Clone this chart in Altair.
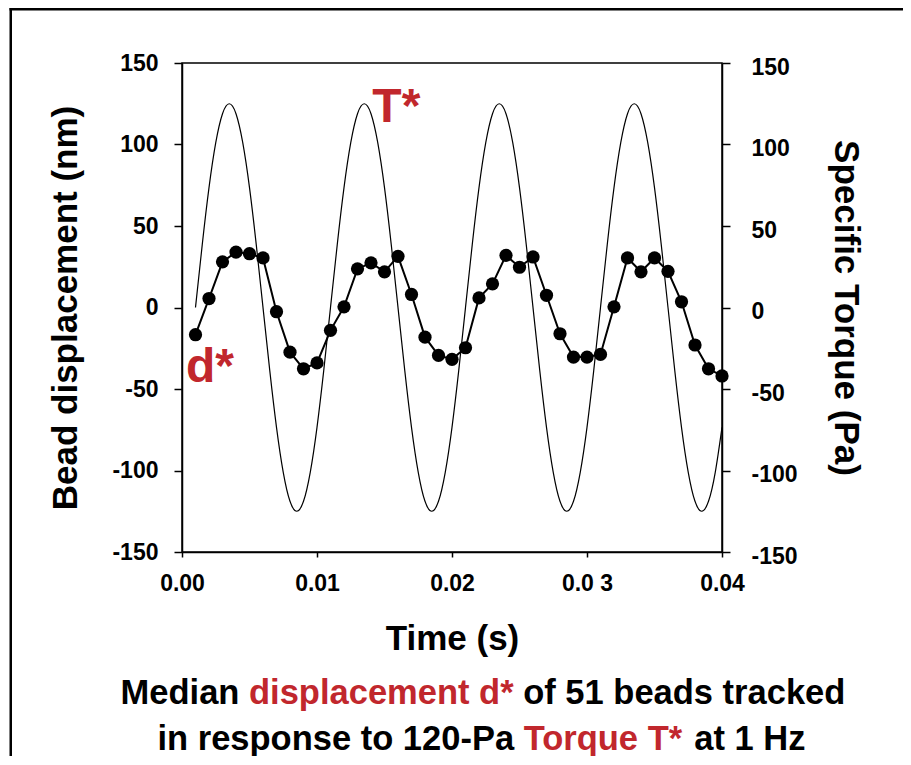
import altair as alt
import pandas as pd

# ---- data ----
time_s = [0.001, 0.002, 0.003, 0.004, 0.005, 0.006, 0.007, 0.008, 0.009, 0.010,
          0.011, 0.012, 0.013, 0.014, 0.015, 0.016, 0.017, 0.018, 0.019, 0.020,
          0.021, 0.022, 0.023, 0.024, 0.025, 0.026, 0.027, 0.028, 0.029, 0.030,
          0.031, 0.032, 0.033, 0.034, 0.035, 0.036, 0.037, 0.038, 0.039, 0.040]
displacement_nm = [-16.7, 5.5, 28, 34, 33, 30.4, -2.6, -27.4, -37.6, -34,
                   -14, 0.4, 23.7, 27.4, 21.9, 31.4, 8, -18.2, -29.4, -31.8,
                   -24.7, 5.9, 14.5, 32, 24.7, 31, 7.5, -16.1, -30.4, -30.4,
                   -28.8, 0.4, 30.4, 21.9, 30.4, 22.2, 3.5, -23, -37.6, -42]

torque_time_s = [0.0010, 0.0015, 0.0020, 0.0025, 0.0030, 0.0035, 0.0040, 0.0045, 0.0050, 0.0055,
                 0.0060, 0.0065, 0.0070, 0.0075, 0.0080, 0.0085, 0.0090, 0.0095, 0.0100, 0.0105,
                 0.0110, 0.0115, 0.0120, 0.0125, 0.0130, 0.0135, 0.0140, 0.0145, 0.0150, 0.0155,
                 0.0160, 0.0165, 0.0170, 0.0175, 0.0180, 0.0185, 0.0190, 0.0195, 0.0200, 0.0205,
                 0.0210, 0.0215, 0.0220, 0.0225, 0.0230, 0.0235, 0.0240, 0.0245, 0.0250, 0.0255,
                 0.0260, 0.0265, 0.0270, 0.0275, 0.0280, 0.0285, 0.0290, 0.0295, 0.0300, 0.0305,
                 0.0310, 0.0315, 0.0320, 0.0325, 0.0330, 0.0335, 0.0340, 0.0345, 0.0350, 0.0355,
                 0.0360, 0.0365, 0.0370, 0.0375, 0.0380, 0.0385, 0.0390, 0.0395, 0.0400]
torque_pa = [0, 38.6, 73.5, 101.1, 118.9, 125, 118.9, 101.1, 73.5, 38.6,
             0, -38.6, -73.5, -101.1, -118.9, -125, -118.9, -101.1, -73.5, -38.6,
             0, 38.6, 73.5, 101.1, 118.9, 125, 118.9, 101.1, 73.5, 38.6,
             0, -38.6, -73.5, -101.1, -118.9, -125, -118.9, -101.1, -73.5, -38.6,
             0, 38.6, 73.5, 101.1, 118.9, 125, 118.9, 101.1, 73.5, 38.6,
             0, -38.6, -73.5, -101.1, -118.9, -125, -118.9, -101.1, -73.5, -38.6,
             0, 38.6, 73.5, 101.1, 118.9, 125, 118.9, 101.1, 73.5, 38.6,
             0, -38.6, -73.5, -101.1, -118.9, -125, -118.9, -101.1, -73.5]

x_ticks = [0, 0.01, 0.02, 0.03, 0.04]
y_ticks = [-150, -100, -50, 0, 50, 100, 150]

label_t = [0.0141, 0.0003]
label_v = [114, -46]
label_txt = ["T*", "d*"]

caption1 = ["Median", "displacement d*", "of 51 beads tracked"]
caption2 = ["in response to 120-Pa", "Torque T*", "at 1 Hz"]

RED = "#c1272d"
FONT = "Liberation Sans"

disp_df = pd.DataFrame({"t": time_s, "d": displacement_nm})
torque_df = pd.DataFrame({"t": torque_time_s, "T": torque_pa})
label_df = pd.DataFrame({"t": label_t, "v": label_v, "label": label_txt})
one = pd.DataFrame({"k": [0]})

x_scale = alt.Scale(domain=[0, 0.04], nice=False, zero=False)
y_scale = alt.Scale(domain=[-150, 150], nice=False, zero=False)

y_label_expr = "'' + datum.value"

x_axis = alt.Axis(values=x_ticks, title="Time (s)", grid=False, labelFlush=False,
                  labelExpr="abs(datum.value-0.03)<1e-9 ? '0.0 3' : format(datum.value, '.2f')",
                  tickSize=5, labelPadding=15, titlePadding=26)
left_axis = alt.Axis(values=y_ticks, title="Bead displacement (nm)", orient="left", grid=False,
                     labelFlush=False, labelExpr=y_label_expr,
                     tickSize=8, labelPadding=16, titlePadding=28)
right_axis = alt.Axis(values=y_ticks, title="Specific Torque (Pa)", orient="right", grid=False,
                      labelFlush=False, labelExpr=y_label_expr,
                      tickSize=8, labelPadding=21, titlePadding=30, labelOffset=4)


def X(field="t"):
    return alt.X(f"{field}:Q", scale=x_scale, axis=x_axis)


def YL(field):
    return alt.Y(f"{field}:Q", scale=y_scale, axis=left_axis)


d_line = alt.Chart(disp_df).mark_line(color="black", strokeWidth=2).encode(x=X(), y=YL("d"))
d_pts = alt.Chart(disp_df).mark_circle(color="black", size=175, opacity=1).encode(x=X(), y=YL("d"))
labels = alt.Chart(label_df).mark_text(
    align="left", baseline="alphabetic", fontSize=48, fontWeight="bold", color=RED, font=FONT
).encode(x=X(), y=YL("v"), text="label:N")


def txt(s, px, py, color):
    return alt.Chart(one).mark_text(
        align="left", baseline="alphabetic", fontSize=34.5, fontWeight="bold", color=color, font=FONT
    ).encode(x=alt.value(px), y=alt.value(py), text=alt.value(s))


cap = [
    txt(caption1[0], -61.4, 641, "black"),
    txt(caption1[1], 67.0, 641, RED),
    txt(caption1[2], 341.2, 641, "black"),
    txt(caption2[0], -24.5, 687, "black"),
    txt(caption2[1], 341.7, 687, RED),
    txt(caption2[2], 512.3, 687, "black"),
]


def frame_rect(x1, x2, y1, y2):
    return alt.Chart(one).mark_rect(color="black", opacity=1).encode(
        x=alt.value(x1), x2=alt.value(x2), y=alt.value(y1), y2=alt.value(y2))


border_top = frame_rect(-172.5, 721, -55, -52.5)
border_left = frame_rect(-172.5, -170, -55, 693)

disp_layer = alt.layer(d_line, d_pts, labels, *cap, border_top, border_left)

torque_line = alt.Chart(torque_df).mark_line(color="black", strokeWidth=1.2, interpolate="natural").encode(
    x=X(), y=alt.Y("T:Q", scale=y_scale, axis=right_axis))

chart = alt.layer(disp_layer, torque_line).resolve_scale(y="independent").properties(
    width=540, height=489, autosize="none",
    padding={"left": 174, "top": 55, "right": 181, "bottom": 204},
).configure_axis(
    labelFont=FONT, labelFontSize=23, labelFontWeight="bold", labelColor="black",
    titleFont=FONT, titleFontSize=35, titleFontWeight="bold", titleColor="black",
    domainColor="black", domainWidth=1.5, tickColor="black", tickWidth=1.5,
).configure_view(stroke="black", strokeWidth=1.5)

chart.save("out.html", embed_options={"renderer": "svg", "actions": False})
